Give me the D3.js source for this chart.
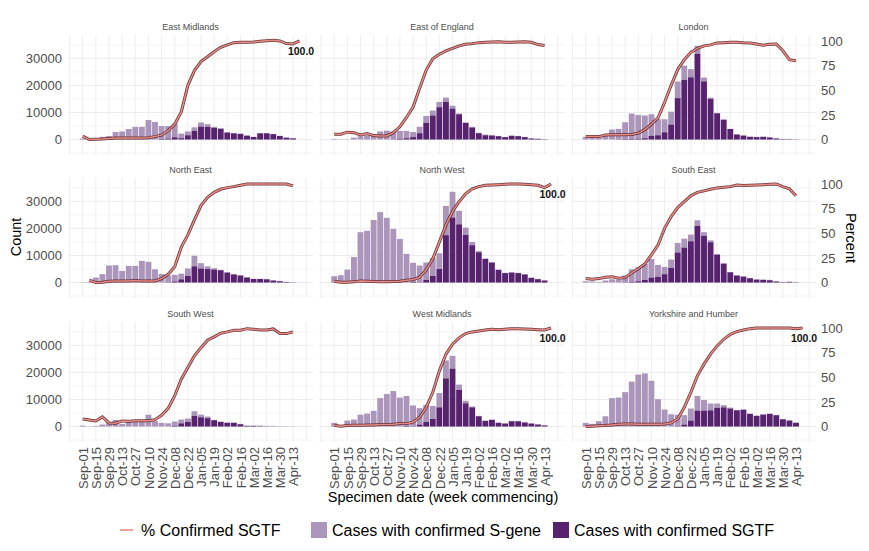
<!DOCTYPE html>
<html>
<head>
<meta charset="utf-8">
<script src="https://cdn.jsdelivr.net/npm/d3@7"></script>
<style>
  body { margin: 0; background: #fff; }
  text { font-family: "Liberation Sans", Arial, sans-serif; }
  .domain { display: none; }
</style>
</head>
<body>
<div id="chart"></div>
<script>
// tick labels, two weeks apart
const tickLabels = ['Sep-01','Sep-15','Sep-29','Oct-13','Oct-27','Nov-10','Nov-24','Dec-08','Dec-22','Jan-05','Jan-19','Feb-02','Feb-16','Mar-02','Mar-16','Mar-30','Apr-13'];
const countTicks = [0, 10000, 20000, 30000];
const percentTicks = [0, 25, 50, 75, 100];
const regions = ['East Midlands','East of England','London','North East','North West','South East','South West','West Midlands','Yorkshire and Humber'];

// total cases per week (S-gene + SGTF)
const totalEM = [400,100,400,1000,1300,2800,3000,3900,4700,4700,7200,6500,5000,5000,5900,2200,3000,4500,6300,5700,4700,4200,2700,2400,2200,1500,1000,2400,2400,2100,1400,750,500];
const totalEE = [250,100,100,700,1200,1500,2000,3000,3300,3000,3200,3200,2800,4700,8700,10700,13900,15500,12500,9600,6300,4700,2500,1850,1600,1350,900,1500,1350,1000,500,350,150];
const totalLO = [1000,750,750,1700,3700,3950,6400,9600,9100,8900,9350,7500,7500,10300,21400,27300,26000,34600,22900,15500,9850,7400,3950,2000,1600,1100,1000,1100,900,500,250,250,120];
const totalNE = [100,200,1850,3100,6300,6400,4300,6150,6150,8000,7650,4900,3200,2600,2850,3300,5200,9900,7150,6000,5300,4700,3800,3100,2700,2000,1350,1350,1350,850,600,250,100];
const totalNW = [2350,2700,4800,9400,18600,19100,23100,26000,23900,19800,16100,10600,7300,6300,7400,9100,10800,28300,33500,26500,20300,15000,11600,8900,7500,4800,3600,3800,3600,3100,1850,1350,850];
const totalSE = [500,400,250,750,1200,1100,2600,4900,5650,6900,8700,6500,5800,8500,14600,16200,17700,23000,18600,15600,10500,7100,3900,2700,2300,1700,1200,1100,1000,500,250,350,150];
const totalSW = [370,120,250,750,1600,2450,1000,2000,2100,2200,4400,2000,1350,1200,1850,2600,2950,5650,4400,3700,2450,1850,1500,1500,1000,370,370,370,250,250,120,120,50];
const totalWM = [1350,100,2200,2600,4400,4800,5800,10500,12000,13100,10700,11300,7800,6800,8000,7600,12400,24400,26100,15500,9500,7400,3950,2200,2600,1500,1200,2100,2100,1600,1200,850,500];
const totalYH = [1350,1000,2000,3800,10500,10700,12700,16600,19200,19600,16900,10100,6300,4550,4400,4200,6650,11300,9800,8500,8500,7900,7000,6150,6400,4800,4050,4550,4800,4300,2800,2350,1500];

// confirmed SGTF per week
const sgtfEM = [0,0,0,0,0,0,0,0,0,0,0,0,200,350,850,500,1600,3200,4800,4700,4300,3950,2600,2300,2100,1450,950,2300,2300,2000,1300,700,450];
const sgtfEE = [0,0,0,0,0,0,0,0,0,100,250,500,900,2350,6200,8900,11950,13900,11450,9350,6150,4450,2350,1600,1500,1250,900,1350,1250,900,400,250,120];
const sgtfLO = [0,0,0,0,0,100,200,250,300,500,1350,1600,2700,5550,15300,22000,23000,31700,21500,15000,9700,7350,3900,1850,1450,1000,900,1000,750,400,150,120,80];
const sgtfNE = [0,0,0,0,0,0,0,0,0,0,0,0,0,100,400,1200,2450,6000,5200,5000,4800,4550,3700,3000,2600,1850,1350,1350,1200,750,500,250,100];
const sgtfNW = [0,0,0,0,0,0,0,0,0,0,0,0,250,100,1000,2450,5000,17500,24000,21500,17600,13800,11200,8700,7400,4700,3500,3700,3500,3000,1700,1250,750];
const sgtfSE = [0,0,0,0,0,0,100,200,500,1000,1850,2100,3100,5400,11100,12900,15250,20900,17200,14900,10300,7000,3800,2600,2200,1600,1100,1000,850,400,150,250,100];
const sgtfSW = [0,0,0,0,0,0,0,0,0,0,0,0,0,0,250,1200,1700,3900,3450,3100,2350,1700,1350,1350,850,250,250,120,50,30,20,20,10];
const sgtfWM = [0,0,0,0,0,0,0,0,0,0,0,250,100,750,1700,2800,7100,17800,21400,13500,8600,7100,3800,2100,2450,1350,1100,1950,1950,1500,1100,750,400];
const sgtfYH = [0,0,0,0,0,0,0,0,0,0,0,0,0,0,120,750,2200,5900,5900,6000,6900,7100,6650,6000,6150,4650,3950,4400,4650,4200,2700,2200,1350];

// % confirmed SGTF per week, a few regions carry one extra week at 100
const pctEM = [3.4,0,0.3,0.5,1,1.5,1.5,1.5,1.5,1.5,1.8,3,4.5,9,15.5,28,55,70,79,84,89,93.5,96,98.3,98.6,98.6,99,99.6,100.3,100.7,100,97.3,97,100];
const pctEE = [5.4,5.4,7.5,7,4.7,6,4,3.7,3.7,7,13,22.4,33,52,70.5,82,86.5,90,92.5,95,96.6,97.3,98.3,98.6,99,99.3,98.6,98.6,99,99.3,98.6,96.3,95.3];
const pctLO = [3,3,3,4.7,5,5,5,5.2,6.5,10,15.5,22,37.6,55,71,81,88.5,92.5,95,96,98,98.3,98.6,98.8,98.3,98,97,95.6,96.6,97,90,81,80];
const pctNE = [null,2.4,0,0.3,1.3,1.7,1.7,1.7,2,1.7,1.7,1.7,4,8.4,16,36,48.3,63.5,78,86.5,91.5,94.6,96.3,97.3,98.6,100,100,100,100,100,100,100,98];
const pctNW = [1.3,0.3,0.3,0.7,1.7,1.3,1,0.7,0.7,1,1.3,2.4,3,5.4,13,24,41,58.5,72,82,90,95,97.3,98.7,99,99.3,99.7,100,100,99.7,99.3,98.6,96.3,100];
const pctSE = [4,3.4,4,5.4,6,4.4,5,9.8,14,19,28,38,55,67,76,82,88,91.5,93,94.6,96,96.6,97.3,99,98.4,98.7,99,99.3,99.7,100,97.3,95,88];
const pctSW = [7.7,6.7,5.7,9.8,3.7,3.4,5.7,5.4,6,6,6,7,11.4,18.5,31.3,48,60,71.7,80,87.5,91,94.6,96,97.6,97.6,99.3,98.7,98,98,99,94.3,94.3,96];
const pctWM = [1.3,0.3,1,1.3,1.3,1.7,1.7,2,2,2.4,3,3,4.4,9.4,19.5,34.7,56.5,73.4,83.5,90,94.3,96,97,98,98.7,98.3,98.8,99.3,99.3,99,98.7,98.3,98,100];
const pctYH = [0,0.3,0.7,1,1.7,2.4,2.7,2.7,2.4,2.4,2.4,2.4,2.7,3.7,7.7,19.5,34.7,51.5,63.3,73.4,81.8,88.5,93.6,96.3,98,99.3,100,100,100,100,100,100,99.3,100];

const totals = [totalEM, totalEE, totalLO, totalNE, totalNW, totalSE, totalSW, totalWM, totalYH];
const sgtfs = [sgtfEM, sgtfEE, sgtfLO, sgtfNE, sgtfNW, sgtfSE, sgtfSW, sgtfWM, sgtfYH];
const pcts = [pctEM, pctEE, pctLO, pctNE, pctNW, pctSE, pctSW, pctWM, pctYH];
const labelled = [true, false, false, false, true, false, false, true, true];

const LIGHT = '#ab95ba';
const DARK = '#57236f';
const LINE = '#ea8a7f';
const LINE_EDGE = '#55222f';

const width = 869;
const height = 551;
const panelLefts = [68, 319.5, 571];
const panelTops = [35, 178, 322];
const panelW = 245;
const panelH = 120;

const firstWeek = new Date(Date.UTC(2020, 8, 1));
const week = (i) => d3.utcDay.offset(firstWeek, i * 7);
const tickDates = tickLabels.map((d, i) => week(i * 2));
const gridDates = [week(-2)].concat(tickDates, [week(34)]);
const tickFormat = d3.utcFormat('%b-%d');

const svg = d3.select('#chart').append('svg')
    .attr('width', width)
    .attr('height', height)
    .attr('viewBox', '0 0 ' + width + ' ' + height);

regions.forEach((name, idx) => {
  const col = idx % 3;
  const row = Math.floor(idx / 3);
  const left = panelLefts[col];
  const top = panelTops[row];

  const x = d3.scaleUtc()
      .domain([d3.utcHour.offset(firstWeek, -376), d3.utcHour.offset(firstWeek, 245 * 24 + 7)])
      .range([left, left + panelW]);
  const y = d3.scaleLinear()
      .domain([-5700, 38600])
      .range([top + panelH, top]);
  const yPct = d3.scaleLinear()
      .domain([0, 100])
      .range([y(0), y(36400)]);

  const panel = svg.append('g').attr('class', 'panel');

  // grid
  panel.append('g').selectAll('line')
      .data(d3.range(-5000, 36000, 5000))
      .enter().append('line')
      .attr('x1', left).attr('x2', left + panelW)
      .attr('y1', (d) => y(d)).attr('y2', (d) => y(d))
      .attr('stroke', (d) => d % 10000 === 0 ? '#e9e9e9' : '#f3f3f3')
      .attr('stroke-width', 0.9);
  panel.append('g').selectAll('line')
      .data(gridDates)
      .enter().append('line')
      .attr('x1', (d) => x(d)).attr('x2', (d) => x(d))
      .attr('y1', top).attr('y2', top + panelH)
      .attr('stroke', '#ececec')
      .attr('stroke-width', 0.9);

  // bars
  const barW = x(d3.utcHour.offset(firstWeek, 150)) - x(firstWeek);
  const weeks = totals[idx].map((d, i) => ({ date: week(i), total: d, sgtf: sgtfs[idx][i] }));
  panel.append('g').selectAll('rect')
      .data(weeks)
      .enter().append('rect')
      .attr('x', (d) => x(d.date) - barW / 2)
      .attr('width', barW)
      .attr('y', (d) => y(d.total))
      .attr('height', (d) => y(d.sgtf) - y(d.total))
      .attr('fill', LIGHT);
  panel.append('g').selectAll('rect')
      .data(weeks)
      .enter().append('rect')
      .attr('x', (d) => x(d.date) - barW / 2)
      .attr('width', barW)
      .attr('y', (d) => y(d.sgtf))
      .attr('height', (d) => y(0) - y(d.sgtf))
      .attr('fill', DARK);

  // % line, dark edge with a salmon core
  const line = d3.line()
      .defined((d) => d !== null)
      .x((d, i) => x(week(i)))
      .y((d) => yPct(d));
  panel.append('path').attr('d', line(pcts[idx]))
      .attr('fill', 'none').attr('stroke', LINE_EDGE).attr('stroke-width', 3).attr('opacity', 0.9);
  panel.append('path').attr('d', line(pcts[idx]))
      .attr('fill', 'none').attr('stroke', LINE).attr('stroke-width', 1.5);

  if (labelled[idx]) {
    const last = pcts[idx].length - 1;
    panel.append('text')
        .attr('x', x(week(last)) + 1.5)
        .attr('y', yPct(pcts[idx][last]) + 14.5)
        .attr('text-anchor', 'middle')
        .attr('font-size', 10.5)
        .attr('font-weight', 'bold')
        .attr('fill', '#111')
        .text(d3.format('.1f')(pcts[idx][last]));
  }

  // facet title
  panel.append('text')
      .attr('x', left + panelW / 2)
      .attr('y', top - 5)
      .attr('text-anchor', 'middle')
      .attr('font-size', 9)
      .attr('fill', '#4d4d4d')
      .text(name);

  // axes
  if (col === 0) {
    const axisY = panel.append('g')
        .attr('transform', 'translate(' + left + ',0)')
        .call(d3.axisLeft(y).tickValues(countTicks).tickSize(0).tickPadding(6).tickFormat(d3.format('d')));
    axisY.selectAll('text').attr('font-size', 13).attr('fill', '#4d4d4d');
  }
  if (col === 2) {
    const axisP = panel.append('g')
        .attr('transform', 'translate(' + (left + panelW) + ',0)')
        .call(d3.axisRight(yPct).tickValues(percentTicks).tickSize(0).tickPadding(5));
    axisP.selectAll('text').attr('font-size', 13).attr('fill', '#4d4d4d');
  }
  if (row === 2) {
    const axisX = panel.append('g')
        .attr('transform', 'translate(0,' + (top + panelH) + ')')
        .call(d3.axisBottom(x).tickValues(tickDates).tickSize(0).tickFormat(tickFormat));
    axisX.selectAll('text')
        .attr('transform', 'rotate(-90)')
        .attr('text-anchor', 'end')
        .attr('x', -5)
        .attr('y', 0)
        .attr('dy', '0.36em')
        .attr('font-size', 13)
        .attr('fill', '#4d4d4d');
  }
});

// axis titles
svg.append('text')
    .attr('x', 443).attr('y', 502)
    .attr('text-anchor', 'middle')
    .attr('font-size', 14.5)
    .text('Specimen date (week commencing)');
svg.append('text')
    .attr('transform', 'translate(21,237) rotate(-90)')
    .attr('text-anchor', 'middle')
    .attr('font-size', 14.5)
    .text('Count');
svg.append('text')
    .attr('transform', 'translate(846,238) rotate(90)')
    .attr('text-anchor', 'middle')
    .attr('font-size', 14.5)
    .text('Percent');

// legend
const legend = svg.append('g').attr('class', 'legend');
legend.append('line')
    .attr('x1', 120).attr('x2', 133)
    .attr('y1', 530).attr('y2', 530)
    .attr('stroke', LINE).attr('stroke-width', 1.6);
legend.append('text').attr('x', 141).attr('y', 536).attr('font-size', 16).text('% Confirmed SGTF');
legend.append('rect').attr('x', 311).attr('y', 522).attr('width', 16).attr('height', 16).attr('fill', LIGHT);
legend.append('text').attr('x', 332).attr('y', 536).attr('font-size', 16).text('Cases with confirmed S-gene');
legend.append('rect').attr('x', 553).attr('y', 522).attr('width', 16).attr('height', 16).attr('fill', DARK);
legend.append('text').attr('x', 574).attr('y', 536).attr('font-size', 16).text('Cases with confirmed SGTF');
</script>
</body>
</html>
